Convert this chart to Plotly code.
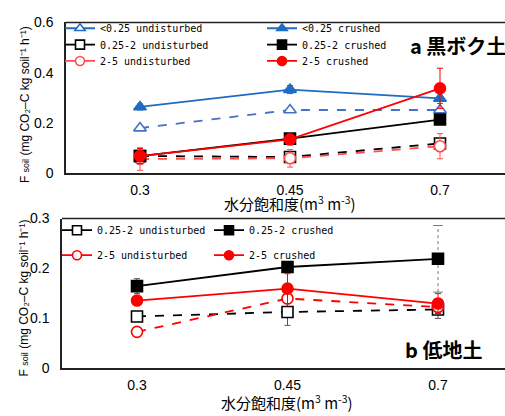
import plotly.graph_objects as go

# Water saturation levels (x categories)
saturation = ["0.3", "0.45", "0.7"]

# Panel a: 黒ボク土
a_lt025_undist = [0.18, 0.252, 0.252]
a_lt025_crush = [0.264, 0.333, 0.298]
a_lt025_crush_err = [0.012, 0.016, 0.02]
a_025_2_undist = [0.069, 0.065, 0.119]
a_025_2_undist_err = [0.01, 0.01, 0.015]
a_025_2_crush = [0.069, 0.138, 0.214]
a_025_2_crush_err = [0.01, 0.01, 0.01]
a_2_5_undist = [0.057, 0.06, 0.108]
a_2_5_undist_err = [0.045, 0.035, 0.05]
a_2_5_crush = [0.069, 0.135, 0.338]
a_2_5_crush_err = [0.03, 0.01, 0.08]

# Panel b: 低地土
b_025_2_undist = [0.103, 0.112, 0.117]
b_025_2_undist_err = [0.0, 0.027, 0.018]
b_025_2_crush = [0.164, 0.2025, 0.219]
b_025_2_crush_err = [0.015, 0.0, 0.0]
b_025_2_crush_wide_err = [0.0, 0.0, 0.067]
b_2_5_undist = [0.072, 0.139, 0.122]
b_2_5_crush = [0.135, 0.159, 0.129]
b_2_5_crush_err = [0.0, 0.03, 0.02]

BLUE = "#1f6cc0"
BLUE_D = "#4472c4"
RED = "#ff0000"
RED_D = "#ff4d4d"
BLACK = "#000000"

W, H = 505, 416
fig = go.Figure()

LEGEND_FONT = dict(family="DejaVu Sans Mono", size=10, color="#000")
MSIZE = 11


def marker(color, symbol, filled):
    return dict(symbol=symbol, size=MSIZE, color=color if filled else "white",
                line=dict(color=color, width=1.6))


def add(x, y, color, symbol, filled, dash, xa, ya, err=None, ecolor=None):
    fig.add_trace(go.Scatter(
        x=x, y=y, mode="lines+markers", xaxis=xa, yaxis=ya, showlegend=False,
        line=dict(color=color, width=1.8, dash=dash),
        marker=marker(color, symbol, filled),
        error_y=None if err is None else dict(type="data", array=err, visible=True,
                                              color=ecolor or color, thickness=1, width=3),
    ))


def key(name, color, symbol, filled, legend):
    # legend-only sample: solid line with marker
    fig.add_trace(go.Scatter(
        x=[None], y=[None], name=name, mode="lines+markers", legend=legend,
        line=dict(color=color, width=1.8), marker=dict(marker(color, symbol, filled), size=9),
    ))


# Panel a traces
add(saturation, a_lt025_undist, BLUE_D, "triangle-up", False, "dash", "x", "y")
add(saturation, a_025_2_undist, BLACK, "square", False, "dash", "x", "y", a_025_2_undist_err, "#555")
add(saturation, a_2_5_undist, RED_D, "circle", False, "dash", "x", "y", a_2_5_undist_err)
add(saturation, a_lt025_crush, BLUE, "triangle-up", True, "solid", "x", "y", a_lt025_crush_err)
add(saturation, a_025_2_crush, BLACK, "square", True, "solid", "x", "y", a_025_2_crush_err)
add(saturation, a_2_5_crush, RED, "circle", True, "solid", "x", "y", a_2_5_crush_err)

# Panel b: wide dotted whisker for the 0.25-2 crushed series
for xi, v, e in zip(saturation, b_025_2_crush, b_025_2_crush_wide_err):
    if e > 0:
        fig.add_trace(go.Scatter(
            x=[xi, xi], y=[v - e, v + e], mode="lines+markers", xaxis="x2", yaxis="y2",
            showlegend=False, hoverinfo="skip",
            line=dict(color="#777", width=1, dash="dot"),
            marker=dict(symbol="line-ew", size=7, line=dict(color="#777", width=1)),
        ))

add(saturation, b_025_2_undist, BLACK, "square", False, "dash", "x2", "y2", b_025_2_undist_err, "#555")
add(saturation, b_2_5_undist, RED, "circle", False, "dash", "x2", "y2")
add(saturation, b_025_2_crush, BLACK, "square", True, "solid", "x2", "y2", b_025_2_crush_err, "#555")
add(saturation, b_2_5_crush, RED, "circle", True, "solid", "x2", "y2", b_2_5_crush_err)

# Legend entries, one legend box per entry
key("<0.25 undisturbed", BLUE, "triangle-up", False, "legend")
key("0.25-2 undisturbed", BLACK, "square", False, "legend2")
key("2-5 undisturbed", RED_D, "circle", False, "legend3")
key("<0.25 crushed", BLUE, "triangle-up", True, "legend4")
key("0.25-2 crushed", BLACK, "square", True, "legend5")
key("2-5 crushed", RED, "circle", True, "legend6")
key("0.25-2 undisturbed", BLACK, "square", False, "legend7")
key("0.25-2 crushed", BLACK, "square", True, "legend8")
key("2-5 undisturbed", RED, "circle", False, "legend9")
key("2-5 crushed", RED, "circle", True, "legend10")


def px_x(p):
    return p / W


def px_y(p):
    return 1 - p / H


tick_font = dict(family="Liberation Sans", size=14, color="#000")
axis_common = dict(showgrid=False, zeroline=False, showline=True, linecolor="#222", linewidth=1.5,
                   ticks="", tickfont=tick_font)

legend_common = dict(font=LEGEND_FONT, bgcolor="rgba(0,0,0,0)", borderwidth=0,
                     xanchor="left", yanchor="top", itemwidth=30)

# (left px, top px) for each legend box
legend_pos = {
    "legend": (60, 6), "legend2": (60, 23), "legend3": (60, 40),
    "legend4": (262, 6), "legend5": (262, 23), "legend6": (262, 40),
    "legend7": (57, 216), "legend8": (209, 216),
    "legend9": (57, 242), "legend10": (209, 242),
}
legends = {k: dict(x=px_x(lx), y=px_y(ty), **legend_common) for k, (lx, ty) in legend_pos.items()}

fig.update_layout(
    width=W, height=H, margin=dict(l=0, r=0, t=0, b=0),
    paper_bgcolor="white", plot_bgcolor="white",
    xaxis=dict(domain=[px_x(66), 1], anchor="y", type="category",
               categoryorder="array", categoryarray=saturation,
               range=[-74 / 150, (W - 66 - 74) / 150], ticklabelstandoff=3, **axis_common),
    yaxis=dict(domain=[px_y(172), px_y(15)], anchor="x", range=[0, 0.6],
               tickvals=[0, 0.2, 0.4, 0.6], ticktext=["0", "0.2", "0.4", "0.6"],
               ticklabelstandoff=8, **axis_common),
    xaxis2=dict(domain=[px_x(62), 1], anchor="y2", type="category",
                categoryorder="array", categoryarray=saturation,
                range=[-75 / 150.5, (W - 62 - 75) / 150.5], ticklabelstandoff=4, **axis_common),
    yaxis2=dict(domain=[px_y(374), px_y(219)], anchor="x2", range=[0, 0.3],
                tickvals=[0, 0.1, 0.2, 0.3], ticktext=["0", "0.1", "0.2", "0.3"],
                ticklabelstandoff=8, **axis_common),
    showlegend=True,
    **legends,
)

# Top frame edge of each panel
for xr, yr in (("x domain", "y domain"), ("x2 domain", "y2 domain")):
    fig.add_shape(type="line", xref=xr, yref=yr, x0=0, x1=1, y0=1, y1=1,
                  line=dict(color="#222", width=1.5))

ytitle = "F <span style='font-size:9px'>soil</span> (mg CO₂–C kg soil⁻¹ h⁻¹)"
xtitle = "水分飽和度(m<sup>3</sup> m<sup>-3</sup>)"
title_font = dict(family="Noto Sans CJK JP", size=15, color="#000")
label_font = dict(family="Noto Sans CJK JP", size=20, color="#000")
ytitle_font = dict(family="Liberation Sans", size=12, color="#000")


def note(text, x, y, font, angle=0, xanchor="center"):
    fig.add_annotation(text=text, xref="paper", yref="paper", x=px_x(x), y=px_y(y),
                       xanchor=xanchor, yanchor="middle", textangle=angle,
                       showarrow=False, font=font)


note(ytitle, 25, 101, ytitle_font, angle=-90)
note(ytitle, 24, 302, ytitle_font, angle=-90)
note(xtitle, 290, 203, title_font)
note(xtitle, 287, 410, title_font)
note("<b>a 黒ボク土</b>", 408, 39, label_font, xanchor="left")
note("<b>b 低地土</b>", 403, 355, label_font, xanchor="left")

fig.write_html("out.html")
